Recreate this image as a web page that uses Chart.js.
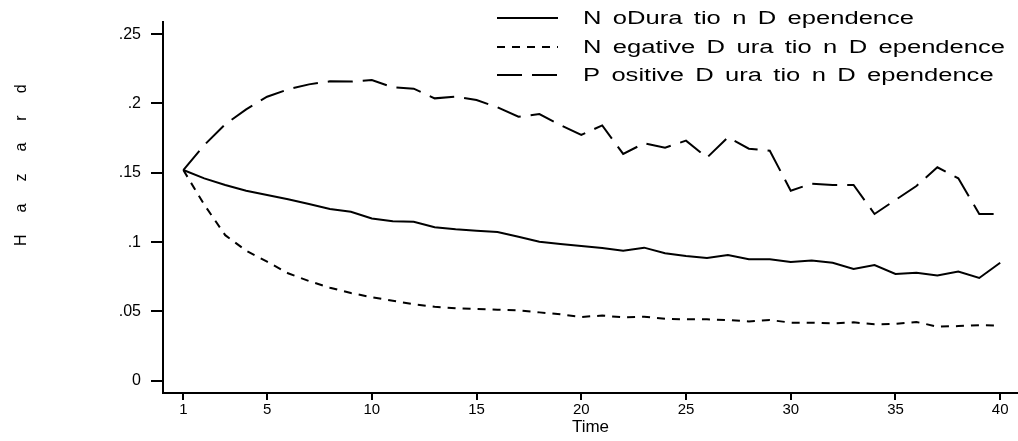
<!DOCTYPE html>
<html>
<head>
<meta charset="utf-8">
<title>Hazard by time</title>
<script src="https://cdn.jsdelivr.net/npm/chart.js@4.4.1/dist/chart.umd.min.js"></script>
<style>
    html, body { margin: 0; padding: 0; background: #fff; }
    #hazardCanvas { display: block; }
</style>
</head>
<body>
<canvas id="hazardCanvas" width="1018" height="441"></canvas>
<script>
// Time periods
const time = [1, 2, 3, 4, 5, 6, 7, 8, 9, 10, 11, 12, 13, 14, 15, 16, 17, 18, 19, 20,
              21, 22, 23, 24, 25, 26, 27, 28, 29, 30, 31, 32, 33, 34, 35, 36, 37, 38, 39, 40];

// Estimated hazard for each model
const noDep = [.152, .146, .1412, .1371, .134, .1309, .1275, .1239, .1219, .1171,
               .115, .1147, .1107, .1092, .1082, .1073, .1039, .1003, .0986, .0972,
               .0958, .0938, .096, .0919, .09, .0885, .0907, .0876, .0876, .0856,
               .0868, .0851, .0806, .0835, .077, .0779, .076, .0787, .0741, .0851];
const negDep = [.152, .127, .105, .0938, .0859, .0775, .0719, .0671, .0633, .0602,
                .0577, .0551, .0534, .0522, .0517, .0512, .0508, .0493, .0479, .046,
                .047, .0457, .0462, .0447, .0443, .0443, .0438, .0428, .0438, .0419,
                .0418, .0414, .0421, .0407, .041, .0424, .039, .0394, .0401, .0397];
const posDep = [.152, .17, .185, .1958, .2049, .2102, .2138, .216, .2158, .217,
                .2117, .2107, .2037, .2049, .2025, .1972, .1905, .1924, .1845, .1773,
                .1842, .1636, .1713, .1681, .1732, .1609, .1756, .1674, .1659, .1371,
                .1422, .1412, .1412, .1203, .1304, .1405, .154, .146, .1203, .1203];

// Series names as they print in the legend
const seriesNames = ['N oDura tio n D ependence',
                     'N egative D ura tio n D ependence',
                     'P ositive D ura tio n D ependence'];

// Axis ticks
const xTickValues = [1, 5, 10, 15, 20, 25, 30, 35, 40];
const xTickLabels = ['1', '5', '10', '15', '20', '25', '30', '35', '40'];
const yTickValues = [0, .05, .1, .15, .2, .25];
const yTickLabels = ['0', '.05', '.1', '.15', '.2', '.25'];

const FONT = '"Liberation Sans", Arial, sans-serif';

function toPoints(values) {
    return time.map((t, i) => ({ x: t, y: values[i] }));
}

function lineSet(label, values, dash) {
    return {
        label: label,
        data: toPoints(values),
        borderColor: '#000',
        borderWidth: 2,
        borderDash: dash,
        borderCapStyle: 'butt',
        borderJoinStyle: 'miter',
        pointRadius: 0,
        tension: 0,
        fill: false
    };
}

// Legend in the top right corner and the spaced-out y title
const overlay = {
    id: 'overlay',
    afterDraw(chart) {
        const c = chart.ctx;
        c.save();
        c.fillStyle = '#000';
        c.strokeStyle = '#000';
        c.textBaseline = 'middle';
        c.textAlign = 'left';
        const rows = [18, 47, 75];
        chart.data.datasets.forEach((ds, i) => {
            c.lineWidth = 2;
            c.lineCap = 'butt';
            c.setLineDash(ds.borderDash || []);
            c.beginPath();
            c.moveTo(497, rows[i]);
            c.lineTo(558, rows[i]);
            c.stroke();
            c.setLineDash([]);

            // labels print wide, so stretch the text sideways
            c.save();
            c.translate(583, rows[i] + 1);
            c.scale(1.42, 1);
            c.font = '18px ' + FONT;
            c.wordSpacing = '3px';
            c.fillText(ds.label, 0, 0);
            c.restore();
        });

        // "Hazard" down the left side, one letter at a time
        c.translate(22, 0);
        c.rotate(-Math.PI / 2);
        c.font = '16px ' + FONT;
        c.textAlign = 'left';
        let pos = -246;
        for (const ch of 'Hazard') {
            c.fillText(ch, pos, 0);
            pos += c.measureText(ch).width + 22;
        }
        c.restore();
    }
};

const chart = new Chart(document.getElementById('hazardCanvas').getContext('2d'), {
    type: 'line',
    data: {
        datasets: [
            lineSet(seriesNames[0], noDep, []),
            lineSet(seriesNames[1], negDep, [8, 7]),
            lineSet(seriesNames[2], posDep, [25, 10])
        ]
    },
    options: {
        responsive: false,
        animation: false,
        devicePixelRatio: 1,
        layout: { padding: { top: 22, right: 0, bottom: 0, left: 0 } },
        plugins: {
            legend: { display: false },
            tooltip: { enabled: false }
        },
        scales: {
            x: {
                type: 'linear',
                min: 0.03,
                max: 40.85,
                afterBuildTicks: axis => {
                    axis.ticks = xTickValues.map(v => ({ value: v }));
                },
                afterFit: scale => { scale.height = 48; },
                grid: {
                    drawOnChartArea: false,
                    drawTicks: true,
                    tickLength: 7,
                    color: '#000',
                    lineWidth: 2
                },
                border: { display: true, color: '#000', width: 2 },
                ticks: {
                    autoSkip: false,
                    maxRotation: 0,
                    padding: 1,
                    color: '#000',
                    font: { family: FONT, size: 15 },
                    callback: (value, index) => xTickLabels[index]
                },
                title: {
                    display: true,
                    text: 'Time',
                    color: '#000',
                    font: { family: FONT, size: 17 },
                    padding: { top: 0, bottom: 3 }
                }
            },
            y: {
                type: 'linear',
                min: -0.00887,
                max: 0.2588,
                afterBuildTicks: axis => {
                    axis.ticks = yTickValues.map(v => ({ value: v }));
                },
                afterFit: scale => { scale.width = 163; },
                grid: {
                    drawOnChartArea: false,
                    drawTicks: true,
                    tickLength: 12,
                    color: '#000',
                    lineWidth: 2
                },
                border: { display: true, color: '#000', width: 2 },
                ticks: {
                    autoSkip: false,
                    padding: 10,
                    color: '#000',
                    font: { family: FONT, size: 16 },
                    callback: (value, index) => yTickLabels[index]
                }
            }
        }
    },
    plugins: [overlay]
});
</script>
</body>
</html>
